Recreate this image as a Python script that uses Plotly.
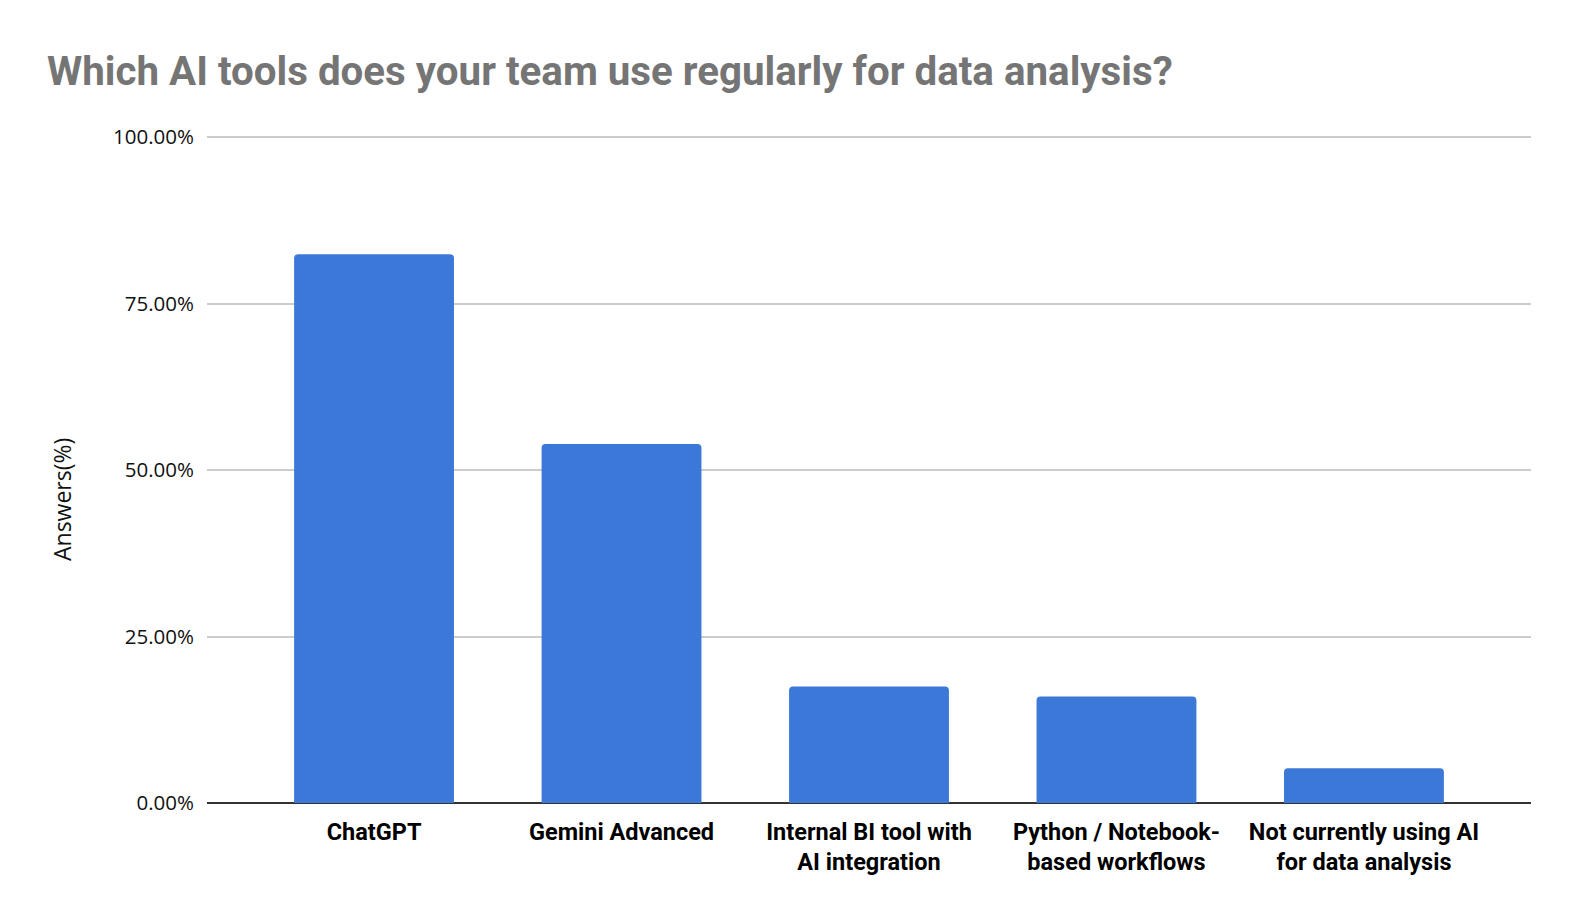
import plotly.graph_objects as go

categories = ["ChatGPT", "Gemini Advanced", "Internal BI tool with<br>AI integration",
              "Python / Notebook-<br>based workflows", "Not currently using AI<br>for data analysis"]
answers_pct = [82.4, 53.9, 17.5, 16.0, 5.2]
y_ticks = [0, 0.25, 0.5, 0.75, 1.0]

# page body adds an 8px margin, so the figure is drawn 8px smaller
W, H = 1570, 914
Y_TOP = 1.006
L, R, T, B = 199, 47, 125, 119
pw = W - L - R
ph = H - T - B

x_pos = list(range(len(categories)))

fig = go.Figure(go.Bar(
    x=x_pos,
    y=[v / 100 for v in answers_pct],
    width=0.646,
    marker=dict(color="#3c78d8", line=dict(width=0)),
    hovertemplate="%{y:.2%}<extra></extra>",
))

fig.update_layout(
    width=W, height=H,
    margin=dict(l=L, r=R, t=T, b=B),
    plot_bgcolor="white", paper_bgcolor="white",
    barcornerradius=4,
    showlegend=False,
    title=dict(
        text="<b>Which AI tools does your team use regularly for data analysis?</b>",
        font=dict(family="Roboto", size=40.3, color="#757575"),
        x=39 / W, xanchor="left", xref="container",
        y=1 - 63 / H, yanchor="middle", yref="container",
    ),
    xaxis=dict(
        range=[-0.675, len(categories) - 1 + 0.675],
        tickvals=x_pos,
        ticktext=[f"<b>{c}</b>" for c in categories],
        tickfont=dict(family="Roboto", size=23.5, color="#000000"),
        showgrid=False, zeroline=False, showline=False,
        ticks="", ticklabelstandoff=12,
    ),
    yaxis=dict(
        range=[0, Y_TOP],
        tickvals=y_ticks,
        tickformat=".2%",
        tickfont=dict(family="Open Sans", size=20.5, color="#111111"),
        showgrid=True, gridcolor="#cccccc", gridwidth=1.5,
        zeroline=True, zerolinecolor="#333333", zerolinewidth=2,
        showline=False, ticks="", ticklabelstandoff=12,
    ),
    annotations=[dict(
        text="Answers(%)", textangle=-90,
        xref="paper", yref="paper",
        x=(54 - L) / pw, y=(1 - (500 - 8 - T) / ph), xanchor="center", yanchor="middle",
        showarrow=False,
        font=dict(family="Open Sans", size=23, color="#111111"),
    )],
)

fig.write_html("out.html")
